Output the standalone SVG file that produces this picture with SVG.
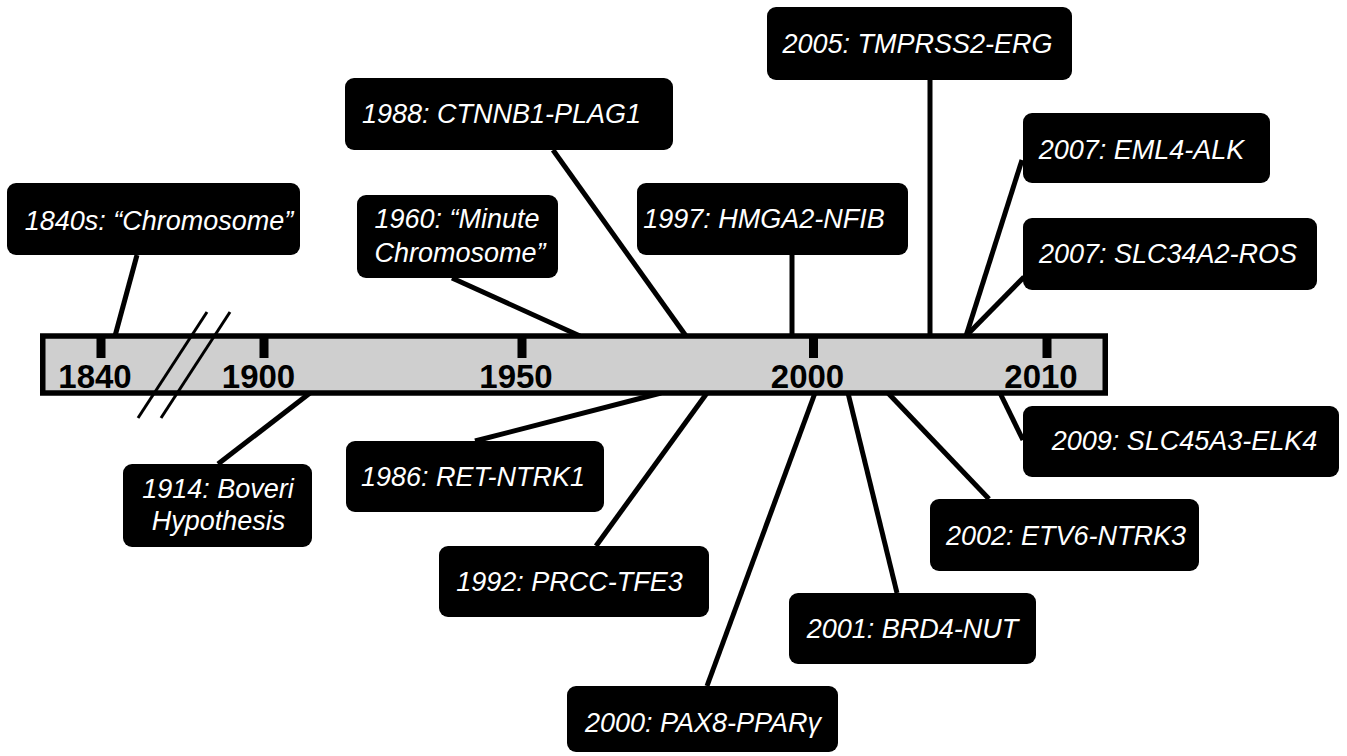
<svg xmlns="http://www.w3.org/2000/svg" width="1347" height="756" viewBox="0 0 1347 756">
<style>
.box{fill:#000}
.lbl{font-family:"Liberation Sans",Arial,sans-serif;font-style:italic;font-size:27px;fill:#fff;text-anchor:middle}
.yr{font-family:"Liberation Sans",Arial,sans-serif;font-weight:bold;font-size:33px;fill:#000;text-anchor:middle}
.con{stroke:#000;stroke-width:5;fill:none}
.brk{stroke:#000;stroke-width:3;fill:none}
.tick{fill:#000}
</style>
<rect width="1347" height="756" fill="#fff"/>
<g id="connectors">
<line class="con" x1="137" y1="255" x2="115" y2="336"/>
<line class="con" x1="452" y1="278" x2="580" y2="336"/>
<line class="con" x1="553" y1="150" x2="686" y2="336"/>
<line class="con" x1="792" y1="255" x2="792" y2="336"/>
<line class="con" x1="930" y1="80" x2="930" y2="336"/>
<line class="con" x1="1022" y1="160" x2="966" y2="336"/>
<line class="con" x1="1024" y1="277" x2="966" y2="336"/>
<line class="con" x1="218" y1="464" x2="310" y2="393"/>
<line class="con" x1="475" y1="441" x2="661" y2="393"/>
<line class="con" x1="596" y1="546" x2="707" y2="393"/>
<line class="con" x1="707" y1="686" x2="815" y2="393"/>
<line class="con" x1="897" y1="593" x2="848" y2="393"/>
<line class="con" x1="989" y1="499" x2="888" y2="393"/>
<line class="con" x1="1023" y1="440" x2="1000" y2="393"/>
</g>
<g id="timeline">
<rect x="42.75" y="336" width="1062.5" height="57" fill="#cfcfcf" stroke="#000" stroke-width="5.5"/>
<rect class="tick" x="96.5" y="336" width="9" height="22"/>
<rect class="tick" x="259.5" y="336" width="9" height="22"/>
<rect class="tick" x="517.5" y="336" width="9" height="22"/>
<rect class="tick" x="809" y="336" width="9" height="22"/>
<rect class="tick" x="1042.5" y="336" width="9" height="22"/>
<text class="yr" x="95" y="388">1840</text>
<text class="yr" x="258.5" y="388">1900</text>
<text class="yr" x="516" y="388">1950</text>
<text class="yr" x="807.5" y="388">2000</text>
<text class="yr" x="1041" y="388">2010</text>
<line class="brk" x1="138" y1="418" x2="207" y2="312"/>
<line class="brk" x1="161" y1="418" x2="230" y2="312"/>
</g>
<g id="n1840s"><rect class="box" x="7" y="183" width="293" height="72" rx="9"/><text class="lbl" x="159" y="230">1840s: “Chromosome”</text></g>
<g id="n1960"><rect class="box" x="357" y="195" width="201" height="83" rx="9"/><text class="lbl" x="457" y="228">1960: “Minute</text><text class="lbl" x="460" y="262">Chromosome”</text></g>
<g id="n1988"><rect class="box" x="345" y="78" width="328" height="72" rx="9"/><text class="lbl" x="501.5" y="123">1988: CTNNB1-PLAG1</text></g>
<g id="n1997"><rect class="box" x="637" y="183" width="271" height="72" rx="9"/><text class="lbl" x="764" y="228">1997: HMGA2-NFIB</text></g>
<g id="n2005"><rect class="box" x="767" y="7" width="305" height="73" rx="9"/><text class="lbl" x="917.5" y="53">2005: TMPRSS2-ERG</text></g>
<g id="n2007a"><rect class="box" x="1023" y="113" width="247" height="70" rx="9"/><text class="lbl" x="1141.5" y="159">2007: EML4-ALK</text></g>
<g id="n2007b"><rect class="box" x="1023" y="218" width="294" height="72" rx="9"/><text class="lbl" x="1168" y="263">2007: SLC34A2-ROS</text></g>
<g id="n2009"><rect class="box" x="1023" y="406" width="316" height="71" rx="9"/><text class="lbl" x="1184.5" y="450">2009: SLC45A3-ELK4</text></g>
<g id="n1914"><rect class="box" x="123" y="464" width="189" height="83" rx="9"/><text class="lbl" x="218" y="498">1914: Boveri</text><text class="lbl" x="218.5" y="530">Hypothesis</text></g>
<g id="n1986"><rect class="box" x="346" y="441" width="258" height="71" rx="9"/><text class="lbl" x="473" y="486">1986: RET-NTRK1</text></g>
<g id="n1992"><rect class="box" x="439" y="546" width="270" height="71" rx="9"/><text class="lbl" x="569.5" y="591">1992: PRCC-TFE3</text></g>
<g id="n2000"><rect class="box" x="567" y="686" width="271" height="66" rx="9"/><text class="lbl" x="703" y="732">2000: PAX8-PPARγ</text></g>
<g id="n2001"><rect class="box" x="789" y="593" width="247" height="71" rx="9"/><text class="lbl" x="912.5" y="638">2001: BRD4-NUT</text></g>
<g id="n2002"><rect class="box" x="930" y="499" width="269" height="72" rx="9"/><text class="lbl" x="1066" y="545">2002: ETV6-NTRK3</text></g>
</svg>
